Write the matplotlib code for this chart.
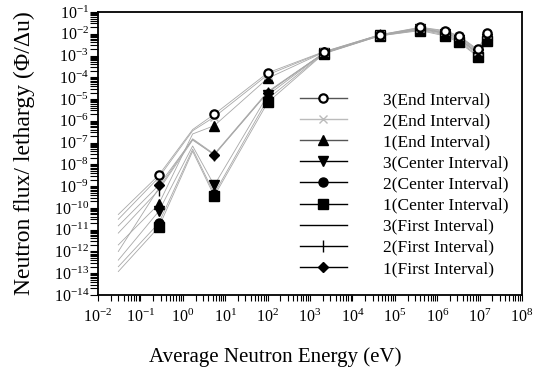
import matplotlib
matplotlib.use("Agg")
import matplotlib.pyplot as plt
from matplotlib.lines import Line2D
from matplotlib.ticker import LogLocator, LogFormatterSciNotation, NullFormatter

plt.rcParams['font.family'] = ['Liberation Serif', 'DejaVu Serif']
plt.rcParams['mathtext.fontset'] = 'custom'
plt.rcParams['mathtext.rm'] = 'Liberation Serif'
plt.rcParams['mathtext.it'] = 'Liberation Serif:italic'
plt.rcParams['axes.unicode_minus'] = False

# Energy grid (eV) of the lines; markers at selected points
energy = [0.03, 0.27, 1.7, 5.5, 100, 2100, 4.4e4, 4.0e5, 1.5e6, 3.3e6, 9.0e6, 1.5e7]
marker_idx = [1, 3, 4, 5, 6, 7, 8, 9, 10, 11]

labels = ["3(End Interval)", "2(End Interval)", "1(End Interval)",
          "3(Center Interval)", "2(Center Interval)", "1(Center Interval)",
          "3(First Interval)", "2(First Interval)", "1(First Interval)"]

end3 = [5e-11, 3.2e-9, 4e-7, 2.0e-6, 1.6e-4, 1.5e-3, 9.0e-3, 0.020, 0.014, 0.008, 0.0019, 0.011]
end2 = [3e-11, 2.5e-9, 3.5e-7, 1.5e-6, 1.3e-4, 1.45e-3, 9.0e-3, 0.019, 0.013, 0.0075, 0.0017, 0.010]
end1 = [2e-12, 1.5e-10, 2.5e-7, 6.0e-7, 9.0e-5, 1.4e-3, 8.5e-3, 0.018, 0.012, 0.007, 0.0015, 0.009]
cen3 = [4e-13, 7e-11, 7e-8, 1.1e-9, 1.5e-5, 1.3e-3, 8.5e-3, 0.016, 0.010, 0.005, 0.0012, 0.006]
cen2 = [2e-13, 2e-11, 5e-8, 4.5e-10, 1.0e-5, 1.25e-3, 8.0e-3, 0.015, 0.009, 0.0045, 0.0010, 0.005]
cen1 = [1.2e-13, 1.3e-11, 4e-8, 3.5e-10, 7.0e-6, 1.2e-3, 8.0e-3, 0.014, 0.008, 0.004, 0.0009, 0.0045]
fir3 = [1e-12, 8e-10, 1.5e-7, 3.0e-8, 2.2e-5, 1.3e-3, 8.5e-3, 0.017, 0.011, 0.006, 0.0013, 0.007]
fir2 = [7e-12, 6.6e-10, 1.3e-7, 2.8e-8, 2.0e-5, 1.3e-3, 8.5e-3, 0.017, 0.011, 0.006, 0.0013, 0.007]
fir1 = [1.5e-11, 1.1e-9, 1.4e-7, 2.7e-8, 2.0e-5, 1.3e-3, 8.5e-3, 0.017, 0.011, 0.006, 0.0013, 0.007]

series = [end3, end2, end1, cen3, cen2, cen1, fir3, fir2, fir1]
markers = ['o', 'x', '^', 'v', 'o', 's', 'None', '|', 'D']
mfaces = ['white', '#bbbbbb', 'black', 'black', 'black', 'black', 'black', 'black', 'black']
medges = ['black', '#bbbbbb', 'black', 'black', 'black', 'black', 'black', 'black', 'black']
msizes = [6, 6, 6.5, 6.5, 6.5, 6.5, 6, 8, 5]
leg_colors = ['#555555', '#bbbbbb', '#555555', 'black', 'black', 'black', 'black', 'black', 'black']

fig = plt.figure(figsize=(5.48, 3.69), dpi=100)
ax = fig.add_axes([0.179, 0.2005, 0.7736, 0.767])

for vals in series:
    ax.plot(energy, vals, color='#a8a8a8', lw=0.6, zorder=2)
for vals, m, fc, ec, ms in reversed(list(zip(series, markers, mfaces, medges, msizes))):
    xs = [energy[i] for i in marker_idx]
    ys = [vals[i] for i in marker_idx]
    ax.plot(xs, ys, linestyle='None', marker=m, markerfacecolor=fc, markeredgecolor=ec,
            markersize=ms, markeredgewidth=1.6 if m == 'o' and fc == 'white' else 1.0, zorder=3)

ax.set_xscale('log')
ax.set_yscale('log')
ax.set_xlim(1e-2, 1e8)
ax.set_ylim(1e-14, 1e-1)

ax.xaxis.set_major_locator(LogLocator(base=10, numticks=20))
ax.yaxis.set_major_locator(LogLocator(base=10, numticks=20))
ax.xaxis.set_minor_locator(LogLocator(base=10, subs=range(2, 10), numticks=100))
ax.yaxis.set_minor_locator(LogLocator(base=10, subs=range(2, 10), numticks=100))
ax.xaxis.set_major_formatter(LogFormatterSciNotation())
ax.yaxis.set_major_formatter(LogFormatterSciNotation())
ax.xaxis.set_minor_formatter(NullFormatter())
ax.yaxis.set_minor_formatter(NullFormatter())

ax.tick_params(axis='both', which='both', direction='out', top=False, right=False,
               labelsize=11.5, width=0.8)
ax.tick_params(axis='y', which='both', length=5.5, pad=1)
ax.tick_params(axis='x', which='both', length=4.5, pad=5.5)
for s in ax.spines.values():
    s.set_linewidth(1.3)

ax.set_xlabel("Average Neutron Energy (eV)", fontsize=15)
ax.set_ylabel("Neutron flux/ lethargy (Φ/Δu)", fontsize=17)
ax.xaxis.set_label_coords(0.419, -0.186)
ax.yaxis.set_label_coords(-0.149, 0.5)

handles = []
for lab, m, fc, ec, ms, lc in zip(labels, markers, mfaces, medges, msizes, leg_colors):
    handles.append(Line2D([], [], color=lc, lw=1.0, marker=m, markerfacecolor=fc,
                          markeredgecolor=ec, markersize=ms,
                          markeredgewidth=1.6 if m == 'o' and fc == 'white' else 1.0))
fig.legend(handles, labels, loc='upper left', bbox_to_anchor=(300 / 548, 1 - 92 / 369),
           frameon=False, fontsize=12.5, handlelength=2.7, handletextpad=2.1,
           labelspacing=0.285, borderpad=0, borderaxespad=0)

fig.savefig("out.png", dpi=100)
